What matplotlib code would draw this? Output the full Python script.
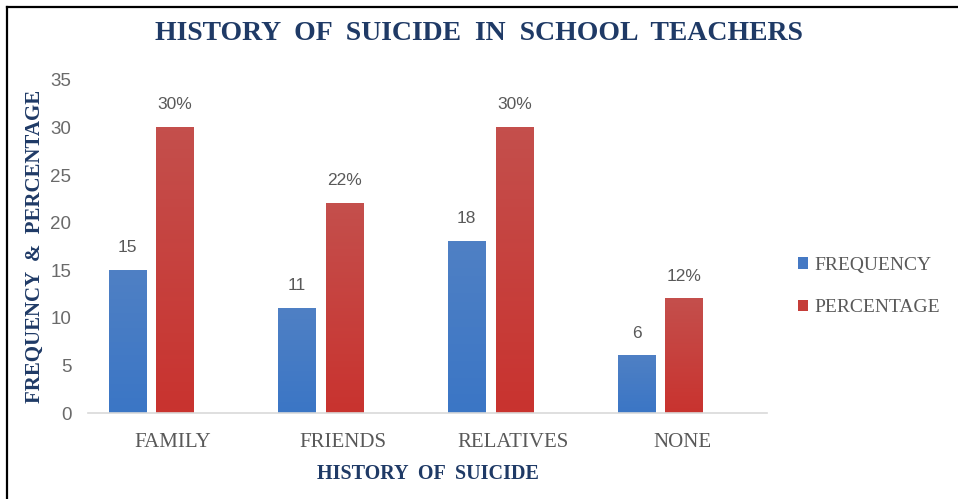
import matplotlib.pyplot as plt
import numpy as np
from matplotlib.lines import Line2D
from matplotlib.colors import LinearSegmentedColormap

categories = ['FAMILY', 'FRIENDS', 'RELATIVES', 'NONE']
frequency = [15, 11, 18, 6]
percentage = [30, 22, 30, 12]
freq_labels = ['15', '11', '18', '6']
pct_labels = ['30%', '22%', '30%', '12%']

navy = '#1f3a66'
gray = '#595959'
blue = '#4579c4'
red = '#c53d39'

fig = plt.figure(figsize=(9.58, 4.99), dpi=100)
ax = fig.add_axes([0.092, 0.172, 0.709, 0.668])

x = np.arange(len(categories))
w = 0.22
b1 = ax.bar(x - 0.27, frequency, w, color=blue, label='FREQUENCY')
b2 = ax.bar(x + 0.01, percentage, w, color=red, label='PERCENTAGE')

# soft vertical gradient on top of each bar
grad = np.linspace(0, 1, 64).reshape(-1, 1)
cm_blue = LinearSegmentedColormap.from_list('b', ['#3b76c6', '#4f80c4'])
cm_red = LinearSegmentedColormap.from_list('r', ['#c9332f', '#c44f4c'])
for bars, cm in ((b1, cm_blue), (b2, cm_red)):
    for rect in bars:
        x0, y0 = rect.get_x(), rect.get_y()
        ax.imshow(grad, cmap=cm, aspect='auto', origin='lower', zorder=rect.get_zorder() + 0.1,
                  extent=(x0, x0 + rect.get_width(), y0, y0 + rect.get_height()))

# value labels above each bar
for bars, labels in ((b1, freq_labels), (b2, pct_labels)):
    for rect, txt in zip(bars, labels):
        ax.annotate(txt, (rect.get_x() + rect.get_width() / 2, rect.get_height()),
                    xytext=(0, 11), textcoords='offset points', ha='center', va='bottom',
                    fontsize=12.5, color=gray, family='Liberation Sans')

ax.set_xlim(-0.5, 3.5)
ax.set_ylim(0, 35)
ax.set_yticks(range(0, 36, 5))
ax.set_xticks(x)
ax.set_xticklabels(categories, family='Liberation Serif', fontsize=15, color=gray)
for lab in ax.get_yticklabels():
    lab.set_family('Liberation Sans')
    lab.set_fontsize(13.5)
    lab.set_color('#6a6a6a')
ax.tick_params(length=0)
ax.tick_params(axis='x', pad=14)
ax.tick_params(axis='y', pad=12)

for s in ['top', 'right', 'left']:
    ax.spines[s].set_visible(False)
ax.spines['bottom'].set_color('#d9d9d9')
ax.spines['bottom'].set_linewidth(1.2)

ax.set_xlabel('HISTORY  OF  SUICIDE', family='Liberation Serif', fontweight='bold',
              fontsize=14.5, color=navy, labelpad=9)
ax.set_ylabel('FREQUENCY  &  PERCENTAGE', family='Liberation Serif', fontweight='bold',
              fontsize=15, color=navy, labelpad=4)

fig.text(0.5, 0.932, 'HISTORY  OF  SUICIDE  IN  SCHOOL  TEACHERS', ha='center', va='center',
         family='Liberation Serif', fontweight='bold', fontsize=20, color=navy)

ax.legend(loc='center left', bbox_to_anchor=(1.02, 0.38), frameon=False,
          prop={'family': 'Liberation Serif', 'size': 14}, labelcolor=gray,
          handlelength=0.5, handleheight=0.5, handletextpad=0.3, labelspacing=1.3)

# frame lines along the top and left edges
fig.add_artist(Line2D([0.007, 1.0], [0.986, 0.986], color='black', lw=1.6))
fig.add_artist(Line2D([0.007, 0.007], [0.0, 0.986], color='black', lw=1.6))

fig.savefig('out.png', dpi=100)
